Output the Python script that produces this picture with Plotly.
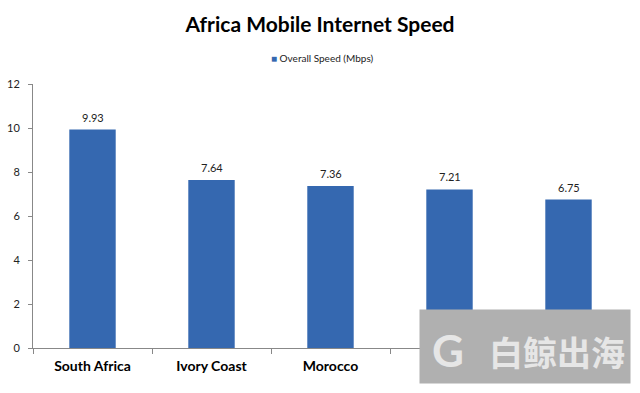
import plotly.graph_objects as go

countries = ["South Africa", "Ivory Coast", "Morocco", "Tunisia", "Kenya"]
speeds = [9.93, 7.64, 7.36, 7.21, 6.75]
series_name = "Overall Speed (Mbps)"
title = "Africa Mobile Internet Speed"
bar_color = "#3568B0"

fig = go.Figure()
fig.add_trace(go.Bar(
    x=countries, y=speeds, name=series_name,
    marker=dict(color=bar_color, line=dict(width=0)),
    width=0.39, showlegend=False,
))

# value labels above bars
for c, v in zip(countries, speeds):
    fig.add_annotation(x=c, y=v, text=f"{v:.2f}", showarrow=False, yanchor="bottom", yshift=4,
                       font=dict(size=11, color="#222", family="Lato"))

fig.update_layout(
    width=640, height=393,
    paper_bgcolor="white", plot_bgcolor="white",
    margin=dict(l=33, r=12, t=84, b=45, autoexpand=False),
    title=dict(text="<b>" + title + "</b>", x=0.5, xanchor="center", y=0.938, yanchor="middle",
               font=dict(family="Lato", size=21, color="#000")),
    font=dict(family="Lato"),
    xaxis=dict(showline=True, linecolor="#888", linewidth=1, ticks="outside", tickson="boundaries",
               ticklen=5, tickcolor="#888", ticklabelstandoff=5,
               tickfont=dict(family="Lato", size=14, color="#000", weight="bold"),
               showgrid=False),
    yaxis=dict(range=[0, 12], dtick=2, showline=True, linecolor="#888", linewidth=1, ticks="outside",
               ticklen=4, tickcolor="#888", ticklabelstandoff=6,
               tickfont=dict(family="Lato", size=11, color="#222"),
               showgrid=False, zeroline=False),
)

# legend drawn as a compact key (small square + label)
fig.add_annotation(text=f"<span style='color:{bar_color}'>■</span> {series_name}",
                   xref="paper", yref="paper", x=(322 - 33) / 595, y=(348 - 58) / 264,
                   xanchor="center", yanchor="middle", showarrow=False,
                   font=dict(family="Lato", size=10, color="#222"))

# watermark overlay present in the reference image (box centred at ~525,346 px)
fig.add_annotation(text="", xref="paper", yref="paper",
                   x=(525 - 33) / 595, y=(348 - 346.5) / 264, xanchor="center", yanchor="middle",
                   width=210, height=73, bgcolor="#b0b0b0", borderpad=0, showarrow=False)
fig.add_annotation(text="白鲸出海", xref="paper", yref="paper",
                   x=(557 - 33) / 595, y=(348 - 351) / 264, xanchor="center", yanchor="middle",
                   showarrow=False,
                   font=dict(family="Noto Sans CJK SC", size=34, color="#e6e6e6", weight="bold"))
fig.add_annotation(text="G", xref="paper", yref="paper",
                   x=(448 - 33) / 595, y=(348 - 350) / 264, xanchor="center", yanchor="middle",
                   showarrow=False,
                   font=dict(family="Lato", size=44, color="#e6e6e6", weight="bold"))

fig.write_html("out.html", config={"displayModeBar": False},
               post_script="document.body.style.margin='0';")
